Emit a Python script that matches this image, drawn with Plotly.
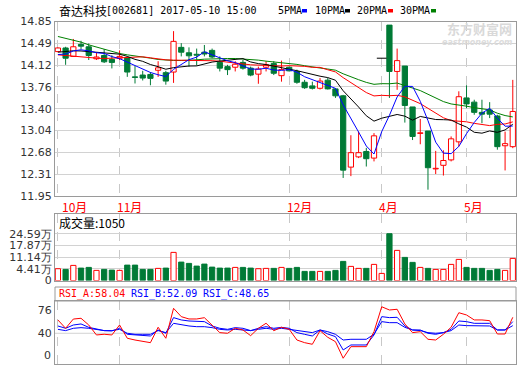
import plotly.graph_objects as go

W, H = 520, 365
LEFT, RIGHT = 55, 516

# ---------------- data ----------------
idx = list(range(60))
opens = [14.35, 14.41, 14.27, 14.47, 14.43, 14.23, 14.285, 14.22, 14.24, 14.25,
         13.93, 13.96, 13.97, 14.04, 14.00, 14.01, 14.42, 14.33, 14.305, 14.34,
         14.37, 14.17, 14.10, 14.09, 14.17, 14.075, 13.975, 14.09, 14.15, 13.95,
         14.09, 14.02, 13.84, 13.78, 13.74, 13.875, 13.73, 13.615, 12.43, 12.60,
         12.69, 12.58, 14.24, 14.79, 14.02, 14.11, 13.43, 12.99, 13.03, 12.40,
         12.46, 12.55, 12.85, 13.58, 13.51, 13.34, 13.38, 13.28, 12.785, 12.77]
highs = [14.42, 14.43, 14.56, 14.53, 14.485, 14.33, 14.39, 14.29, 14.37, 14.27,
         14.11, 14.03, 14.01, 14.19, 14.03, 14.69, 14.49, 14.42, 14.40, 14.46,
         14.40, 14.27, 14.13, 14.19, 14.21, 14.10, 14.10, 14.19, 14.19, 14.20,
         14.10, 14.05, 13.88, 13.85, 13.91, 13.91, 13.74, 13.63, 12.96, 13.02,
         12.75, 12.995, 14.24, 14.79, 14.40, 14.11, 13.43, 13.23, 13.03, 12.70,
         12.71, 12.94, 13.69, 13.79, 13.55, 13.55, 13.51, 13.30, 13.02, 13.88]
lows = [14.34, 14.13, 14.26, 14.39, 14.21, 14.21, 14.16, 14.07, 14.21, 13.93,
        13.82, 13.87, 13.79, 13.93, 13.80, 13.83, 14.27, 14.10, 14.12, 14.27,
        14.24, 14.02, 13.96, 14.02, 14.05, 13.94, 13.815, 14.02, 13.96, 13.85,
        14.02, 13.815, 13.73, 13.72, 13.72, 13.72, 13.58, 12.25, 12.28, 12.58,
        12.44, 12.525, 14.24, 13.58, 13.715, 13.17, 12.88, 12.81, 12.055, 12.315,
        12.29, 12.525, 12.77, 13.41, 13.30, 13.16, 13.245, 12.72, 12.375, 12.745]
closes = [14.41, 14.24, 14.43, 14.44, 14.285, 14.26, 14.18, 14.17, 14.27, 14.01,
          13.92, 13.91, 13.905, 14.08, 13.86, 14.52, 14.34, 14.28, 14.29, 14.31,
          14.26, 14.075, 14.05, 14.14, 14.075, 13.96, 14.06, 14.13, 13.99, 14.05,
          14.03, 13.84, 13.75, 13.74, 13.86, 13.73, 13.615, 12.38, 12.67, 12.67,
          12.57, 12.95, 14.24, 14.02, 14.20, 13.455, 12.94, 13.00, 12.42, 12.41,
          12.54, 12.90, 13.60, 13.48, 13.34, 13.31, 13.31, 12.77, 12.82, 13.355]

ma5 = [14.30, 14.31, 14.36, 14.38, 14.361, 14.331, 14.319, 14.267, 14.233, 14.178,
       14.11, 14.056, 14.003, 13.965, 13.935, 14.055, 14.141, 14.216, 14.258, 14.348,
       14.296, 14.243, 14.197, 14.167, 14.12, 14.06, 14.057, 14.073, 14.043, 14.038,
       14.052, 14.008, 13.932, 13.882, 13.844, 13.784, 13.739, 13.465, 13.251, 13.013,
       12.781, 12.648, 13.02, 13.29, 13.596, 13.773, 13.771, 13.523, 13.203, 12.845,
       12.662, 12.654, 12.774, 12.986, 13.172, 13.326, 13.408, 13.242, 13.11, 13.113]
ma10 = [14.34, 14.35, 14.363, 14.36, 14.35, 14.335, 14.32, 14.31, 14.307, 14.27,
        14.221, 14.188, 14.135, 14.099, 14.057, 14.083, 14.099, 14.110, 14.112, 14.142,
        14.176, 14.192, 14.207, 14.213, 14.234, 14.178, 14.15, 14.135, 14.105, 14.079,
        14.056, 14.033, 14.003, 13.963, 13.941, 13.918, 13.874, 13.699, 13.567, 13.429,
        13.283, 13.194, 13.243, 13.271, 13.305, 13.277, 13.210, 13.272, 13.247, 13.221,
        13.218, 13.213, 13.149, 13.095, 13.009, 12.994, 13.031, 13.008, 13.048, 13.143]
ma20 = [14.296, 14.291, 14.274, 14.263, 14.258, 14.241, 14.235, 14.241, 14.252, 14.263,
        14.269, 14.263, 14.246, 14.224, 14.213, 14.208, 14.208, 14.208, 14.208, 14.206,
        14.198, 14.190, 14.171, 14.156, 14.145, 14.130, 14.124, 14.122, 14.108, 14.110,
        14.116, 14.112, 14.105, 14.088, 14.088, 14.048, 14.012, 13.917, 13.836, 13.754,
        13.669, 13.613, 13.623, 13.617, 13.623, 13.598, 13.542, 13.485, 13.407, 13.325,
        13.250, 13.203, 13.196, 13.183, 13.157, 13.136, 13.120, 13.140, 13.147, 13.182]
ma30 = [14.601, 14.573, 14.54, 14.507, 14.462, 14.424, 14.385, 14.352, 14.318, 14.296,
        14.28, 14.263, 14.241, 14.219, 14.208, 14.202, 14.202, 14.202, 14.213, 14.224,
        14.23, 14.235, 14.235, 14.235, 14.23, 14.219, 14.208, 14.191, 14.18, 14.163,
        14.151, 14.137, 14.115, 14.091, 14.077, 14.060, 14.041, 13.981, 13.928, 13.883,
        13.838, 13.806, 13.817, 13.815, 13.827, 13.791, 13.744, 13.702, 13.639, 13.576,
        13.519, 13.480, 13.465, 13.443, 13.418, 13.396, 13.381, 13.326, 13.287, 13.264]

# volume in 万手, read against the labelled gridlines
volume_wan = [4.46, 4.06, 6.36, 4.81, 5.21, 3.49, 4.06, 3.66, 3.49, 6.53,
              6.53, 4.06, 4.06, 4.64, 4.81, 13.84, 8.26, 7.51, 5.96, 7.11,
              5.38, 4.81, 4.81, 5.21, 5.21, 4.81, 4.46, 4.64, 4.64, 5.21,
              4.64, 5.21, 2.91, 2.91, 2.91, 2.91, 3.49, 8.66, 5.79, 4.64,
              4.64, 6.94, 1.76, 24.59, 15.0, 10.96, 8.09, 5.21, 4.64, 4.06,
              4.06, 6.94, 9.81, 5.21, 4.64, 4.64, 3.49, 4.06, 3.49, 10.39]

rsi_a = [60.6, 47.7, 62.0, 63.2, 52.8, 37.4, 38.5, 37.4, 52.8, 32.3,
         29.6, 27.0, 25.5, 49.3, 32.3, 78.6, 65.7, 62.1, 62.1, 64.1,
         52.8, 41.0, 40.0, 47.7, 45.1, 36.3, 47.7, 55.5, 44.0, 49.3,
         46.2, 29.6, 25.5, 23.0, 44.0, 33.8, 27.0, 1.4, 19.3, 19.3,
         19.3, 42.5, 81.0, 76.0, 77.1, 54.4, 41.0, 42.5, 30.7, 29.6,
         38.5, 49.3, 71.8, 68.3, 60.6, 60.6, 59.5, 38.9, 38.9, 64.7]
rsi_b = [51.3, 47.7, 52.8, 54.4, 49.2, 46.1, 44.1, 43.6, 47.7, 38.4,
         37.4, 36.3, 35.8, 45.1, 40.0, 64.2, 60.6, 59.0, 58.0, 58.0,
         51.3, 47.7, 46.1, 48.7, 47.7, 44.1, 47.7, 50.2, 47.7, 49.2,
         47.7, 41.0, 38.4, 35.8, 45.1, 38.9, 34.8, 14.2, 21.9, 21.9,
         21.9, 37.4, 65.7, 64.2, 64.7, 51.3, 45.1, 45.1, 40.0, 38.4,
         41.0, 46.1, 59.0, 58.0, 55.4, 55.4, 55.4, 45.1, 45.1, 58.0]
rsi_c = [46.1, 44.1, 47.7, 48.7, 47.7, 46.1, 44.1, 44.1, 46.1, 40.0,
         38.4, 38.4, 38.4, 44.1, 41.0, 55.4, 52.8, 51.3, 50.2, 50.2,
         48.7, 46.1, 45.1, 46.1, 45.1, 44.1, 46.1, 47.7, 46.1, 47.7,
         46.1, 44.1, 42.5, 41.0, 45.1, 42.5, 38.4, 29.6, 30.7, 30.7,
         30.7, 38.4, 58.0, 56.4, 56.4, 49.2, 45.1, 44.1, 41.0, 40.0,
         41.0, 44.1, 52.8, 51.8, 51.3, 51.3, 51.3, 45.1, 45.1, 51.8]

month_idx = [0, 8, 30, 42, 53]
month_labels = ["10月", "11月", "12月", "4月", "5月"]
price_ticks = [11.95, 12.3125, 12.675, 13.0375, 13.40, 13.7625, 14.125, 14.4875, 14.85]
price_tick_labels = ["11.95", "12.31", "12.68", "13.04", "13.40", "13.76", "14.12", "14.49", "14.85"]
vol_ticks = [-2.32, 4.41, 11.14, 17.87, 24.59]          # bottom line is labelled "0" on the chart
vol_tick_labels = ["0", "4.41万", "11.14万", "17.87万", "24.59万"]
rsi_ticks = [40, 76]
rsi_tick_labels = ["40", "76"]
rsi_floor_label = "0"

# ---------------- styling ----------------
RED = "#ff0000"
GREEN = "#007a36"
GRID = "#d2d2d2"
FRAME = "#9a9a9a"
TICKFONT = dict(family="DejaVu Sans", size=11, color="#333333")
VOL_FLOOR = vol_ticks[0]


def py(p):
    return 1 - p / H


def px(p):
    return p / W


up = [i for i in idx if closes[i] > opens[i]]
down = [i for i in idx if closes[i] < opens[i]]
flat = [i for i in idx if closes[i] == opens[i]]

fig = go.Figure()


def wick(ids):
    xs, ys = [], []
    for i in ids:
        top = max(opens[i], closes[i])
        bot = min(opens[i], closes[i])
        if highs[i] > top:
            xs += [i, i, None]
            ys += [top, highs[i], None]
        if lows[i] < bot:
            xs += [i, i, None]
            ys += [lows[i], bot, None]
    return xs, ys


# candle bodies
fig.add_trace(go.Bar(x=down, y=[opens[i] - closes[i] for i in down], base=[closes[i] for i in down],
                     width=0.68, marker=dict(color=GREEN, line=dict(color=GREEN, width=1)),
                     xaxis="x", yaxis="y", hoverinfo="skip"))
fig.add_trace(go.Bar(x=up, y=[closes[i] - opens[i] for i in up], base=[opens[i] for i in up],
                     width=0.68, marker=dict(color="white", line=dict(color=RED, width=1)),
                     xaxis="x", yaxis="y", hoverinfo="skip"))
wx, wy = wick(down)
fig.add_trace(go.Scatter(x=wx, y=wy, mode="lines", line=dict(color=GREEN, width=1),
                         xaxis="x", yaxis="y", hoverinfo="skip"))
wx, wy = wick(up)
fig.add_trace(go.Scatter(x=wx, y=wy, mode="lines", line=dict(color=RED, width=1),
                         xaxis="x", yaxis="y", hoverinfo="skip"))
fig.add_trace(go.Scatter(x=flat, y=[closes[i] for i in flat], mode="markers",
                         marker=dict(symbol="line-ew", size=7, line=dict(color="black", width=1)),
                         xaxis="x", yaxis="y", hoverinfo="skip"))

# moving averages
for series, col in [(ma30, "#008000"), (ma20, RED), (ma10, "#000000"), (ma5, "#0000ff")]:
    fig.add_trace(go.Scatter(x=idx, y=series, mode="lines", line=dict(color=col, width=1),
                             xaxis="x", yaxis="y", hoverinfo="skip"))

# volume (bars rise from the panel floor)
vup = [i for i in idx if closes[i] >= opens[i]]
vdn = [i for i in idx if closes[i] < opens[i]]
fig.add_trace(go.Bar(x=vdn, y=[volume_wan[i] - VOL_FLOOR for i in vdn], base=VOL_FLOOR, width=0.68,
                     marker=dict(color=GREEN, line=dict(color=GREEN, width=1)),
                     xaxis="x2", yaxis="y2", hoverinfo="skip"))
fig.add_trace(go.Bar(x=vup, y=[volume_wan[i] - VOL_FLOOR for i in vup], base=VOL_FLOOR, width=0.68,
                     marker=dict(color="white", line=dict(color=RED, width=1)),
                     xaxis="x2", yaxis="y2", hoverinfo="skip"))

# RSI
for series, col in [(rsi_c, "#0000ff"), (rsi_b, "#0000ff"), (rsi_a, RED)]:
    fig.add_trace(go.Scatter(x=idx, y=series, mode="lines", line=dict(color=col, width=1),
                             xaxis="x3", yaxis="y3", hoverinfo="skip"))

x_range = [(LEFT - 57.9) / 7.71, (RIGHT - 57.9) / 7.71]
common = dict(showline=True, linecolor=FRAME, linewidth=1, mirror=True, zeroline=False,
              ticks="", fixedrange=True, automargin=False, ticklabeloverflow="allow")
xcommon = dict(range=x_range, domain=[px(LEFT), px(RIGHT)], tickvals=month_idx,
               showticklabels=False, showgrid=True, gridcolor="#c8c8c8", griddash="dash",
               gridwidth=1, **common)

vol_px_per_unit = 11.7 / 6.727
fig.update_layout(
    template="none",
    width=W, height=H, margin=dict(l=0, r=0, t=0, b=0, pad=0, autoexpand=False),
    paper_bgcolor="white", plot_bgcolor="white", showlegend=False,
    barmode="overlay",
    xaxis=dict(anchor="y", **xcommon),
    xaxis2=dict(anchor="y2", **xcommon),
    xaxis3=dict(anchor="y3", **xcommon),
    yaxis=dict(anchor="x", domain=[py(196), py(21.5)], range=[11.95, 14.85],
               tickvals=price_ticks, ticktext=price_tick_labels, tickfont=TICKFONT,
               showgrid=True, gridcolor=GRID, **common),
    yaxis2=dict(anchor="x2", domain=[py(280.5), py(214)],
                range=[VOL_FLOOR, VOL_FLOOR + (280.5 - 214) / vol_px_per_unit],
                tickvals=vol_ticks, ticktext=vol_tick_labels, tickfont=TICKFONT,
                showgrid=True, gridcolor=GRID, **common),
    yaxis3=dict(anchor="x3", domain=[py(364), py(301)], range=[-7.5, 89.9],
                tickvals=rsi_ticks, ticktext=rsi_tick_labels, tickfont=TICKFONT,
                showgrid=False, **common),
)

# RSI: single reference line at 40
fig.add_shape(type="line", xref="x3 domain", yref="y3", x0=0, x1=1, y0=40, y1=40,
              line=dict(color=GRID, width=1), layer="below")
# RSI header box
fig.add_shape(type="rect", xref="paper", yref="paper", x0=px(LEFT), x1=px(RIGHT),
              y0=py(301), y1=py(287), line=dict(color=FRAME, width=1), fillcolor="rgba(0,0,0,0)")

ann = []
CJK = "Noto Sans CJK SC"
MONO = "DejaVu Sans Mono"
# title
ann.append(dict(x=px(57), y=py(10), text="奋达科技", font=dict(family=CJK, size=12, color="black")))
ann.append(dict(x=px(104), y=py(10), text="[002681] 2017-05-10 15:00",
                font=dict(family=MONO, size=10, color="black")))
legend_items = [("5PMA", 276, 302, "#0000ff"), ("10PMA", 313, 345, "#000000"),
                ("20PMA", 355, 388, RED), ("30PMA", 398, 431, "#008000")]
for name, tx, sx, col in legend_items:
    ann.append(dict(x=px(tx), y=py(10), text=name, font=dict(family=MONO, size=10, color="black")))
    fig.add_shape(type="rect", xref="paper", yref="paper", x0=px(sx), x1=px(sx + 5),
                  y0=py(12.5), y1=py(9), fillcolor=col, line=dict(width=0))
# watermark
ann.append(dict(x=px(514), y=py(28), text="<b>东方财富网</b>", xanchor="right",
                font=dict(family=CJK, size=13, color="#d9d9d9")))
ann.append(dict(x=px(514), y=py(42.5), text="<i><b>eastmoney.com</b></i>", xanchor="right",
                font=dict(family="DejaVu Sans", size=8, color="#dcdcdc")))
# month labels
for k, (m, lab) in enumerate(zip(month_idx, month_labels)):
    ann.append(dict(x=m, xref="x", y=py(206), text=lab, xshift=(2 if k == 0 else -4.5),
                    font=dict(family=CJK, size=12, color=RED)))
# volume header
ann.append(dict(x=px(57), y=py(222), text="成交量:1050", font=dict(family=CJK, size=12, color="black")))
# rsi header
ann.append(dict(x=px(57), y=py(294), text="RSI_A:58.04", font=dict(family=MONO, size=10, color=RED)))
ann.append(dict(x=px(129), y=py(294), text="RSI_B:52.09", font=dict(family=MONO, size=10, color="#0000ff")))
ann.append(dict(x=px(201), y=py(294), text="RSI_C:48.65", font=dict(family=MONO, size=10, color="#0000ff")))
# RSI floor label (drawn just above the panel floor, as on the chart)
ann.append(dict(x=px(53), y=py(355.5), text=rsi_floor_label, xanchor="right", font=TICKFONT))

for a in ann:
    a.setdefault("xref", "paper")
    a.setdefault("xanchor", "left")
    a["yref"] = "paper"
    a["yanchor"] = "middle"
    a["showarrow"] = False
fig.update_layout(annotations=ann)

fig.write_html(
    "out.html",
    config={"displayModeBar": False, "staticPlot": True},
    post_script="document.documentElement.style.margin='0';document.body.style.margin='0';"
                "document.body.style.padding='0';document.body.style.overflow='hidden';",
)
